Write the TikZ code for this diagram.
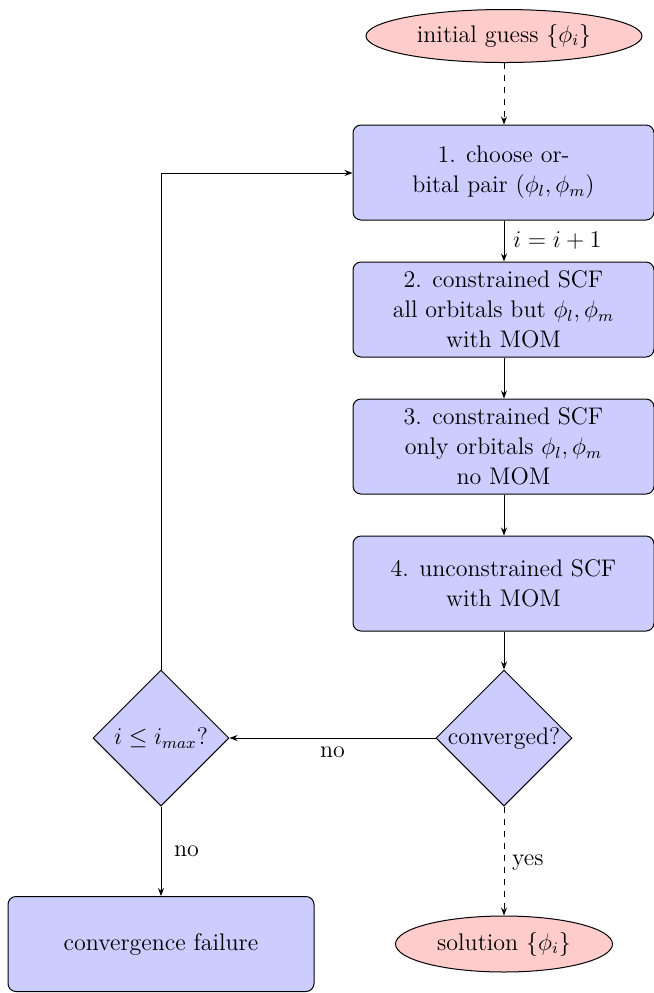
\documentclass[tikz,border=0pt]{standalone}
\usetikzlibrary{shapes.geometric,arrows.meta}
\begin{document}
\begin{tikzpicture}[x=0.5pt,y=-0.5pt,
  font=\fontsize{12}{15}\selectfont,
  every path/.style={line width=0.5pt},
  arr/.style={-{Stealth[length=4pt,width=3pt]}},
  stepbox/.style={draw, fill=blue!20, rounded corners=4pt, align=center,
    minimum width=150.5pt, minimum height=47.5pt, inner sep=2pt},
  decision/.style={draw, fill=blue!20, diamond, aspect=1, inner sep=-1pt,
    minimum size=68pt},
  terminal/.style={draw, fill=red!20, ellipse, inner sep=0pt}]
\useasboundingbox (0,0) rectangle (654,993);

\node[terminal, minimum width=138pt, minimum height=26.5pt] (init) at (504,36) {initial guess $\{\phi_i\}$};
\node[stepbox] (s1) at (503.5,172.5) {1. choose or-\\bital pair $(\phi_l,\phi_m)$};
\node[stepbox] (s2) at (503.5,309.5) {2. constrained SCF\\all orbitals but $\phi_l,\phi_m$\\with MOM};
\node[stepbox] (s3) at (503.5,446.5) {3. constrained SCF\\only orbitals $\phi_l,\phi_m$\\no MOM};
\node[stepbox] (s4) at (503.5,583.5) {4. unconstrained SCF\\with MOM};
\node[decision] (conv) at (504,738) {converged?};
\node[decision] (imax) at (161,738) {$i\le i_{max}$?};
\node[stepbox, minimum width=153pt] (fail) at (161,944) {convergence failure};
\node[terminal, minimum width=108.5pt, minimum height=28pt] (sol) at (504,944) {solution $\{\phi_i\}$};

\coordinate (turn) at (161,173);

\draw[arr, dashed] (init) -- (init |- s1.north);
\draw[arr] (s1.south -| init) -- node[right, xshift=1pt] {$i=i+1$} (s2.north -| init);
\draw[arr] (s2.south -| init) -- (s3.north -| init);
\draw[arr] (s3.south -| init) -- (s4.north -| init);
\draw[arr] (s4.south -| conv) -- (conv.north);
\draw[arr] (conv.west) -- node[below, yshift=-1pt] {no} (imax.east);
\draw[arr] (imax.north) -- (turn) -- (s1.west |- turn);
\draw[arr] (imax.south) -- node[right, xshift=3pt] {no} (fail.north);
\draw[arr, dashed] (conv.south) -- node[right, xshift=0.5pt, yshift=-1pt] {yes} (sol.north);
\end{tikzpicture}
\end{document}
